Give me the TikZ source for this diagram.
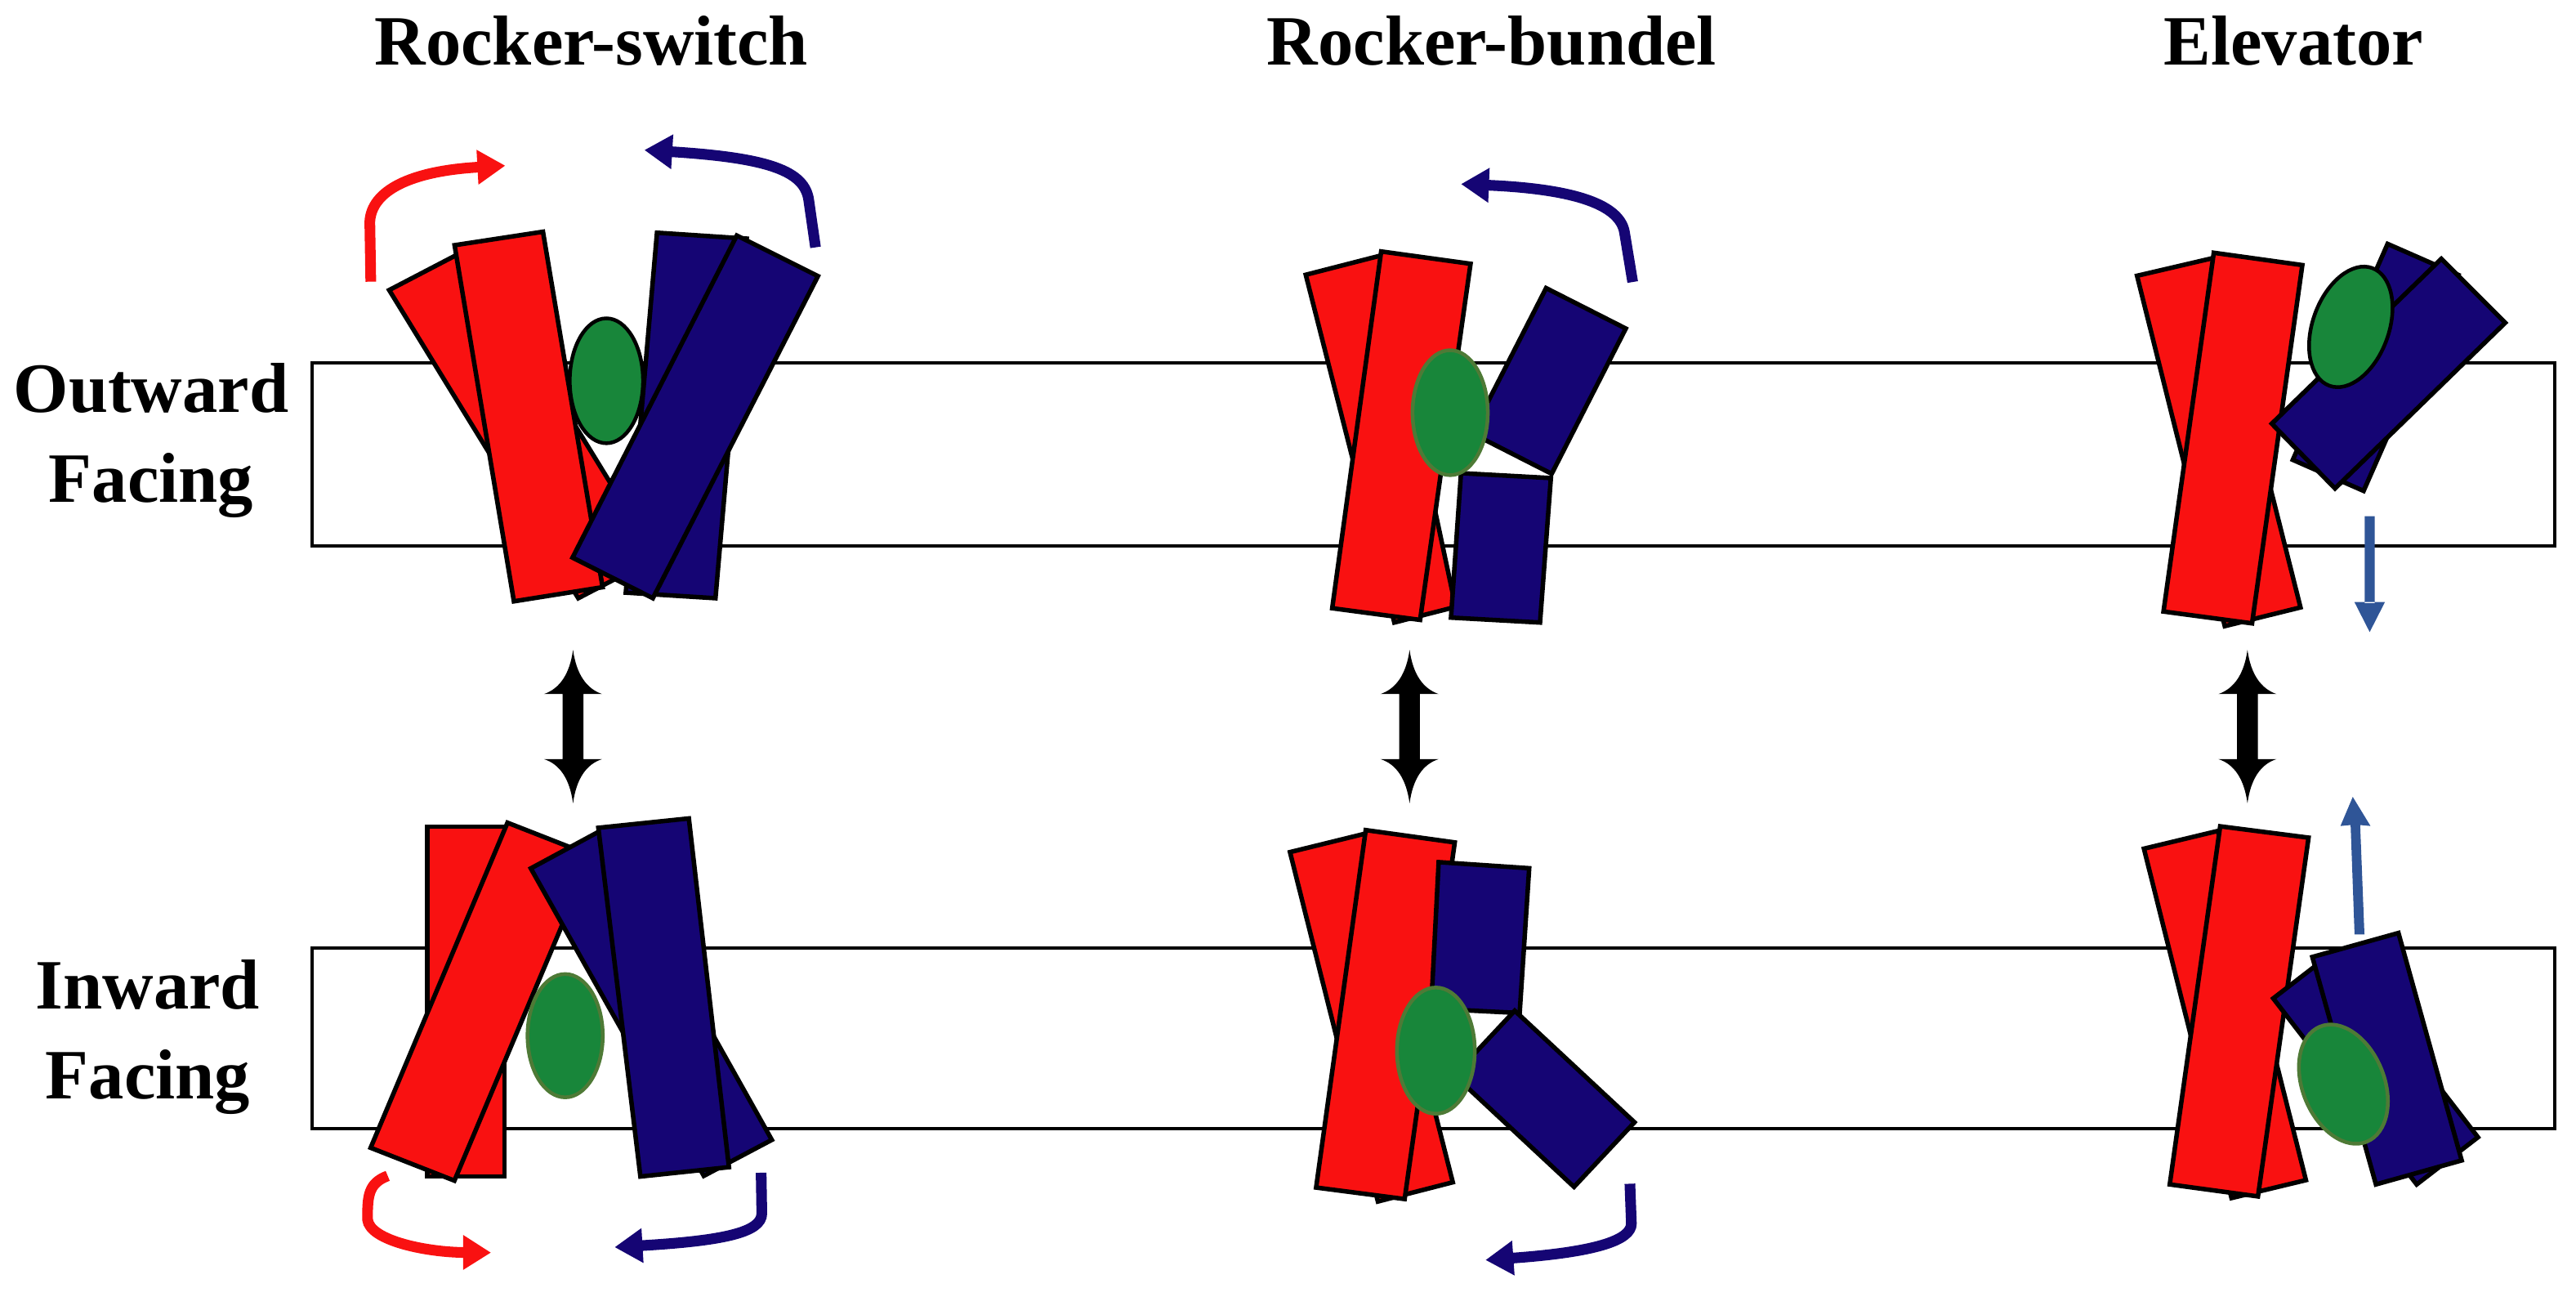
\documentclass[tikz,border=0pt]{standalone}
\usepackage{fontspec}
\setmainfont{Liberation Serif}
\usetikzlibrary{arrows.meta}
\definecolor{hred}{HTML}{F91111}
\definecolor{hblue}{HTML}{150574}
\definecolor{hgreen}{HTML}{18863A}
\definecolor{golive}{HTML}{4E7A36}
\definecolor{steel}{HTML}{2F5597}
\begin{document}
\begin{tikzpicture}[x=0.02cm,y=-0.02cm,
  R/.style={fill=hred,draw=black,line width=0.055cm,line join=miter},
  B/.style={fill=hblue,draw=black,line width=0.055cm,line join=miter},
  G/.style={fill=hgreen,draw=black,line width=0.045cm},
  Go/.style={fill=hgreen,draw=golive,line width=0.045cm},
  mem/.style={draw=black,line width=0.04cm},
  rarr/.style={line width=0.13cm,-{Triangle[length=0.34cm,width=0.40cm]}},
  title/.style={font=\fontsize{24.5}{31}\selectfont\bfseries,align=center}]
\useasboundingbox (0,0) rectangle (1568,789);
% titles
\node[title] (t1) at (360,25) {Rocker-switch};
\node[title] (t2) at (908,25) {Rocker-bundel};
\node[title] (t3) at (1396,25) {Elevator};
\node[title] (l1) at (92,268) {Outward\\Facing};
\node[title] (l2) at (90,631) {Inward\\Facing};
% membranes
\draw[mem] (190,221) rectangle (1555,332);
\draw[mem] (190,577) rectangle (1555,687);
% ---- Rocker-switch outward
\draw[R] (236.9,176.5) -- (284.3,151.8) -- (399.4,339.3) -- (352.0,364.0) -- cycle;
\draw[R] (276.7,149.2) -- (330.5,141.0) -- (366.8,357.3) -- (312.8,365.9) -- cycle;
\draw[B] (399.9,141.6) -- (454.5,145.2) -- (435.5,364.0) -- (380.9,360.6) -- cycle;
\draw[G] (369.1,231.7) ellipse [x radius=22.3,y radius=38];
\draw[B] (448.5,143.3) -- (497.9,168.0) -- (397.4,364.0) -- (348.5,339.3) -- cycle;
\draw[rarr,draw=hred] (225.7,171.4) -- (225.1,135) .. controls (226,116) and (250,104) .. (307.6,100.8);
\draw[rarr,draw=hblue] (496.4,150.5) -- (492.3,122) .. controls (490,104) and (468,96) .. (392.2,91.3);
% ---- Rocker-switch inward
\draw[R] (260.2,503.1) rectangle (307.1,715.9);
\draw[R] (308.9,500.6) -- (360.0,520.6) -- (276.6,718.4) -- (225.6,698.4) -- cycle;
\draw[B] (323.1,528.4) -- (364.6,506.0) -- (469.8,693.6) -- (428.4,715.5) -- cycle;
\draw[B] (364.2,503.7) -- (419.3,498.0) -- (443.7,710.2) -- (389.8,715.9) -- cycle;
\draw[Go] (344.0,630.2) ellipse [x radius=22.9,y radius=37.5];
\draw[rarr,draw=hred] (236.0,715.5) .. controls (224,720) and (223.7,728) .. (223.7,742) .. controls (225,755) and (260,762) .. (298.9,762.2);
\draw[rarr,draw=hblue] (463.3,713.6) -- (463.7,738.4) .. controls (463.7,750) and (440,755) .. (374.1,758.9);
% ---- Rocker-bundel outward
\draw[R] (794.8,167.2) -- (840.4,155.5) -- (886.0,369.3) -- (848.7,378.8) -- cycle;
\draw[R] (840.7,153.0) -- (895.1,160.5) -- (864.4,377.2) -- (810.9,370.1) -- cycle;
\draw[B] (941.1,175.3) -- (989.6,199.9) -- (944.5,288.3) -- (895.9,263.6) -- cycle;
\draw[B] (889.3,287.9) -- (944.0,290.9) -- (937.4,378.8) -- (883.2,375.8) -- cycle;
\draw[Go] (882.7,251.1) ellipse [x radius=22.9,y radius=38];
\draw[rarr,draw=hblue] (993.8,171.6) -- (988.8,141.3) .. controls (986,125) and (960,115) .. (889.3,112.0);
% ---- Rocker-bundel inward
\draw[R] (785.2,518.5) -- (830.4,507.4) -- (884.3,719.4) -- (838.7,731.1) -- cycle;
\draw[R] (831.3,505.1) -- (885.5,512.6) -- (855.0,729.6) -- (801.1,722.6) -- cycle;
\draw[B] (875.7,524.6) -- (930.8,528.3) -- (925.0,616.4) -- (871.1,613.7) -- cycle;
\draw[B] (922.0,615.0) -- (994.9,682.9) -- (958.1,722.2) -- (885.2,654.3) -- cycle;
\draw[Go] (874.0,639.3) ellipse [x radius=23.7,y radius=38.4];
\draw[rarr,draw=hblue] (992.1,720.3) -- (993.0,744.5) .. controls (993,755) and (970,762) .. (904.2,766.7);
% ---- Elevator outward
\draw[R] (1300.8,167.8) -- (1346.7,157.1) -- (1400.3,369.6) -- (1354.2,381.0) -- cycle;
\draw[R] (1347.5,153.8) -- (1401.4,161.3) -- (1370.8,379.3) -- (1316.9,372.1) -- cycle;
\draw[B] (1453.3,148.4) -- (1496.4,167.3) -- (1438.7,298.7) -- (1395.6,279.8) -- cycle;
\draw[B] (1486.0,157.5) -- (1524.9,196.4) -- (1421.3,297.2) -- (1382.8,257.8) -- cycle;
\draw[G,rotate around={-20:(1430.9,198.9)}] (1430.9,198.9) ellipse [x radius=23.2,y radius=38.1];
\fill[steel] (1439.4,314.1) rectangle (1445.4,367) (1433.1,366.3) -- (1451.7,366.3) -- (1442.4,384.6) -- cycle;
% ---- Elevator inward
\draw[R] (1305.0,516.4) -- (1350.0,505.6) -- (1403.6,718.1) -- (1358.3,729.0) -- cycle;
\draw[R] (1351.4,502.8) -- (1405.2,509.7) -- (1374.4,728.0) -- (1320.7,720.7) -- cycle;
\draw[B] (1383.7,607.5) -- (1421.0,578.8) -- (1508.3,692.0) -- (1471.0,720.7) -- cycle;
\draw[B] (1407.5,582.3) -- (1459.9,567.7) -- (1498.4,706.1) -- (1446.2,720.7) -- cycle;
\draw[Go,rotate around={22:(1426.4,659.7)}] (1426.4,659.7) ellipse [x radius=24.9,y radius=37.8];
\fill[steel] (1433.2,568.6) -- (1439.2,568.6) -- (1436.6,502) -- (1442.9,502.6) -- (1432.1,484.9) -- (1424.6,502.6) -- (1430.8,502) -- cycle;
% ---- double arrows
\foreach \cx in {348.8,858,1368}{
  \fill (\cx,395.4) .. controls (\cx+2,410) and (\cx+8,419) .. (\cx+17.7,422.3) -- (\cx+6.3,422.3) -- (\cx+6.3,461.9) -- (\cx+17.7,461.9)
    .. controls (\cx+8,465) and (\cx+2,474) .. (\cx,488.8) .. controls (\cx-2,474) and (\cx-8,465) .. (\cx-17.7,461.9)
    -- (\cx-6.3,461.9) -- (\cx-6.3,422.3) -- (\cx-17.7,422.3) .. controls (\cx-8,419) and (\cx-2,410) .. (\cx,395.4) -- cycle;
}
\end{tikzpicture}
\end{document}
